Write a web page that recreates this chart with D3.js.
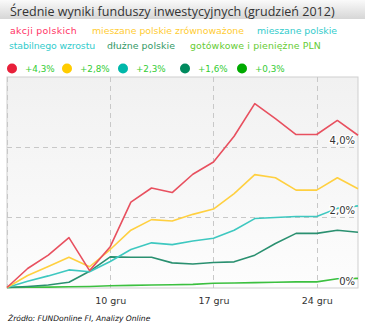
<!DOCTYPE html>
<html><head><meta charset="utf-8">
<script src="https://cdn.jsdelivr.net/npm/d3@7"></script>
<style>body{margin:0;background:#fff}svg{display:block}</style>
</head><body>
<svg id="c" width="365" height="326"></svg>
<script>
const title = "Średnie wyniki funduszy inwestycyjnych (grudzień 2012)";
const dates = ["3","4","5","6","7","10","11","12","13","14","17","18","19","20","21","24","27","28"];
const tickDates = ["10","17","24"];
const tickLabels = ["10 gru","17 gru","24 gru"];
const yTicks = [0, 2, 4];
const yTickLabels = ["0%","2,0%","4,0%"];
const seriesNames = ["akcji polskich","mieszane polskie zrównoważone","mieszane polskie stabilnego wzrostu","dłużne polskie","gotówkowe i pieniężne PLN"];
const totals = ["+4,3%","+2,8%","+2,3%","+1,6%","+0,3%"];
const akcji = [0,0.54,0.92,1.42,0.48,1.16,2.43,2.83,2.70,3.22,3.57,4.30,5.23,4.80,4.35,4.35,4.75,4.33];
const zrown = [0,0.34,0.60,0.86,0.59,1.08,1.63,1.93,1.89,2.08,2.23,2.67,3.21,3.12,2.77,2.77,3.12,2.81];
const stab = [0,0.18,0.33,0.50,0.45,0.74,1.08,1.27,1.22,1.32,1.40,1.63,1.96,1.99,2.02,2.02,2.25,2.32];
const dluzne = [0,0.03,0.07,0.15,0.46,0.87,0.86,0.86,0.70,0.67,0.71,0.73,0.92,1.25,1.54,1.54,1.63,1.57];
const gotow = [0,0.01,0.01,0.02,0.03,0.05,0.06,0.07,0.08,0.09,0.12,0.13,0.14,0.15,0.16,0.16,0.25,0.26];
const lineColors = ["#e8505f","#ffd040","#3ec8c0","#2a9070","#3cc040"];
const dotColors = ["#e8203a","#ffcc00","#00b8aa","#008a5e","#00aa00"];
const textColors = ["#ff3366","#ffcc33","#33cccc","#339966","#66cc33"];
const data = [akcji, zrown, stab, dluzne, gotow];

const svg = d3.select("#c");
const defs = svg.append("defs");
const g1 = defs.append("linearGradient").attr("id","tb").attr("x1",0).attr("y1",0).attr("x2",0).attr("y2",1);
g1.append("stop").attr("offset","0%").attr("stop-color","#fafafa");
g1.append("stop").attr("offset","100%").attr("stop-color","#d6d6d6");
const g2 = defs.append("linearGradient").attr("id","pb").attr("x1",0).attr("y1",0).attr("x2",0).attr("y2",1);
g2.append("stop").attr("offset","0%").attr("stop-color","#f1f1f1");
g2.append("stop").attr("offset","100%").attr("stop-color","#fdfdfd");

function fit(sel, base, width) {
  const w = sel.node().getComputedTextLength();
  sel.attr("font-size", base * width / w);
}
function spread(sel, width) {
  const t = sel.text();
  const w = sel.node().getComputedTextLength();
  sel.attr("letter-spacing", (width - w) / t.length);
}

// title bar
svg.append("rect").attr("x",0).attr("y",0).attr("width",365).attr("height",19).attr("fill","url(#tb)");
const tt = svg.append("text").attr("x",10).attr("y",15.5).text(title)
  .attr("font-family","Open Sans").attr("font-size",14).attr("fill","#333");
fit(tt, 14, 325);

// legend names
const f = "DejaVu Sans";
const lg = [
  [10,34,seriesNames[0],0,67],
  [92,34,seriesNames[1],1,152],
  [257,34,"mieszane polskie",2,80],
  [9,49,"stabilnego wzrostu",2,86],
  [107,49,seriesNames[3],3,68],
  [190,49,seriesNames[4],4,131]
];
lg.forEach(([lx,ly,t,ci,w])=>{
  const s = svg.append("text").attr("x",lx).attr("y",ly).text(t).attr("fill",textColors[ci]).attr("font-family",f).attr("font-size",9.4);
  spread(s, w);
});

// totals row
const dotX = [12, 67, 123, 185, 242];
dotX.forEach((x,i)=>{
  svg.append("circle").attr("cx",x).attr("cy",68.5).attr("r",5).attr("fill",dotColors[i]);
  svg.append("text").attr("x",x+13).attr("y",72).text(totals[i]).attr("fill","#33cc33").attr("font-family",f).attr("font-size",8.8);
});

// plot
const L=7, R=358, T=77, B=288;
svg.append("rect").attr("x",L).attr("y",T).attr("width",R-L).attr("height",B-T).attr("fill","url(#pb)").attr("stroke","#cfcfcf").attr("stroke-width",1);
const x = d3.scalePoint().domain(dates).range([L, R]);
const y = d3.scaleLinear().domain([0,6]).range([B-0.5, T-0.5]);

const grid = svg.append("g").attr("stroke","#c8c8c8").attr("stroke-width",1).attr("stroke-dasharray","5,4").attr("fill","none");
[2,4].forEach(v=>grid.append("line").attr("x1",L).attr("x2",R).attr("y1",Math.round(y(v))+0.5).attr("y2",Math.round(y(v))+0.5));
tickDates.forEach(d=>grid.append("line").attr("x1",Math.round(x(d))+0.5).attr("x2",Math.round(x(d))+0.5).attr("y1",T).attr("y2",B));
grid.append("line").attr("x1",L+0.5).attr("x2",L+0.5).attr("y1",T).attr("y2",B);

const line = d3.line().x((d,i)=>x(dates[i])).y(d=>y(d));
for (let k=data.length-1;k>=0;k--) {
  svg.append("path").attr("d",line(data[k])).attr("fill","none").attr("stroke",lineColors[k]).attr("stroke-width",1.6).attr("stroke-linejoin","round");
}

// y labels
yTicks.forEach((v,i)=>{
  svg.append("text").attr("x",355).attr("y",y(v)-3).attr("text-anchor","end").text(yTickLabels[i])
    .attr("font-family",f).attr("font-size",10).attr("fill","#333")
    .attr("stroke","#fff").attr("stroke-width",2.5).attr("paint-order","stroke");
});
// x labels
const xa = svg.append("g").attr("transform",`translate(0,${B})`).call(d3.axisBottom(x).tickValues(tickDates).tickSize(0).tickPadding(9).tickFormat((d,i)=>tickLabels[i]));
xa.select(".domain").remove();
xa.selectAll("text").attr("font-family",f).attr("font-size",9.5).attr("fill","#333");

svg.append("text").attr("x",8).attr("y",321).text("Źródło: FUNDonline FI, Analizy Online")
  .attr("font-family",f).attr("font-style","italic").attr("font-size",7.6).attr("fill","#111");
</script>
</body></html>
